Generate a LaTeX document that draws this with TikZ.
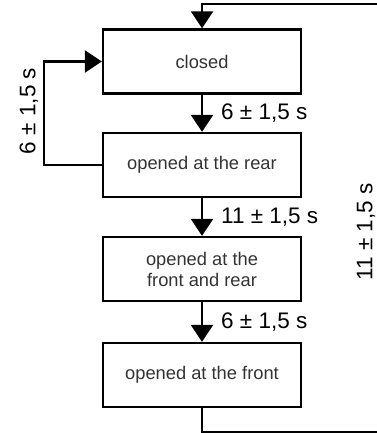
\documentclass[tikz,border=0pt]{standalone}
\usepackage{fontspec}
\setmainfont{Liberation Sans}
\usetikzlibrary{arrows.meta}
\begin{document}
\begin{tikzpicture}[x=1pt,y=-1pt,
  state/.style={draw=black, line width=2.4pt, minimum width=198pt, minimum height=64pt,
    inner sep=0pt, align=center, font=\fontsize{18.3}{21}\selectfont, text=black!80},
  conn/.style={line width=2.4pt, -{Triangle[width=22pt,length=17pt]}},
  lbl/.style={font=\fontsize{22.5}{26}\selectfont, text=black, inner sep=0pt}]
\useasboundingbox (0,0) rectangle (376,433);
\node[state] (closed) at (202,61.5) {closed};
\node[state] (rear) at (202,165) {opened at the rear};
\node[state] (both) at (202,269) {opened at the\\front and rear};
\node[state] (front) at (202,375) {opened at the front};
\coordinate (lb) at (44,165);
\coordinate (lt) at (44,61.5);
\coordinate (bl) at (202,432);
\coordinate (br) at (378,432);
\coordinate (tr) at (378,4);
\coordinate (tl) at (202,4);
\draw[conn] (closed) -- (rear);
\draw[conn] (rear) -- (both);
\draw[conn] (both) -- (front);
\draw[conn] (rear.west) -- (lb) -- (lt) -- (closed.west);
\draw[conn] (front.south) -- (bl) -- (br) -- (tr) -- (tl) -- (closed.north);
\node[lbl, anchor=west] (l1) at (221,113) {6 ± 1,5 s};
\node[lbl, anchor=west] (l2) at (221,217) {11 ± 1,5 s};
\node[lbl, anchor=west] (l3) at (221,322) {6 ± 1,5 s};
\node[lbl, rotate=90] (l4) at (29,111) {6 ± 1,5 s};
\node[lbl, rotate=90] (l5) at (366,232) {11 ± 1,5 s};
\end{tikzpicture}
\end{document}
